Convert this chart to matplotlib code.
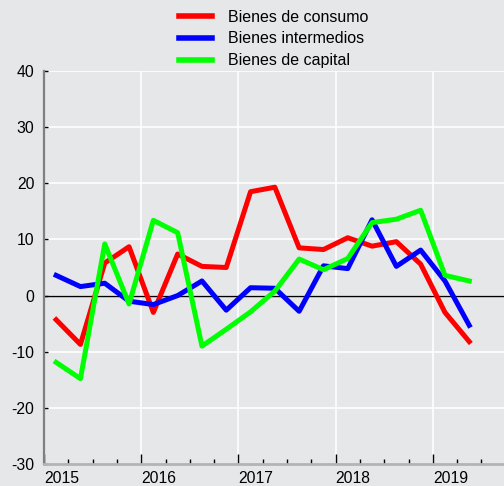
# quarterly growth chart: bienes de consumo / intermedios / capital
import numpy as np
import matplotlib.pyplot as plt
from matplotlib.ticker import FixedLocator, NullFormatter
import matplotlib.transforms as mtransforms

plt.rcParams['font.family'] = ['Liberation Sans', 'DejaVu Sans']
plt.rcParams['axes.unicode_minus'] = False

# 2015Q1 .. 2019Q2
quarters = np.arange(18)
years = ['2015', '2016', '2017', '2018', '2019']

consumo = [-4.3, -8.7, 5.8, 8.7, -3.0, 7.4, 5.2, 5.0, 18.5, 19.3,
           8.5, 8.2, 10.3, 8.8, 9.6, 5.6, -3.0, -8.2]
intermedios = [3.6, 1.6, 2.2, -1.0, -1.6, 0.0, 2.6, -2.6, 1.4, 1.3,
               -2.8, 5.3, 4.8, 13.5, 5.2, 8.1, 2.6, -5.3]
capital = [-11.9, -14.8, 9.2, -1.5, 13.4, 11.2, -9.0, -6.0, -2.9, 0.8,
           6.5, 4.6, 6.6, 13.0, 13.6, 15.2, 3.6, 2.6]

bg = '#e6e7e9'
fig = plt.figure(figsize=(5.04, 4.86), dpi=100, facecolor=bg)
ax = fig.add_axes([44 / 504, 1 - 464 / 486, 1 - 44 / 504, 393 / 486])
ax.set_facecolor(bg)

ax.axhline(0, color='black', lw=1.0, zorder=2)
ax.plot(quarters, consumo, color='#ff0000', lw=3.6, label='Bienes de consumo', zorder=3)
ax.plot(quarters, intermedios, color='#0000ff', lw=3.6, label='Bienes intermedios', zorder=3)
ax.plot(quarters, capital, color='#00ff00', lw=3.6, label='Bienes de capital', zorder=3)

ax.set_ylim(-30, 40)
ax.set_xlim(-0.5, 18.43)
ax.set_yticks(range(-30, 41, 10))

# year boundaries as major ticks, quarter boundaries as minor ticks
year_edges = [-0.5, 3.5, 7.5, 11.5, 15.5]
ax.xaxis.set_major_locator(FixedLocator(year_edges))
ax.set_xticklabels(years)
ax.xaxis.set_minor_locator(FixedLocator(np.arange(-0.5, 18.5, 1.0)))
ax.xaxis.set_minor_formatter(NullFormatter())
offset = mtransforms.ScaledTranslation(6 / 100, 0, fig.dpi_scale_trans)
for lbl in ax.get_xticklabels():
    lbl.set_horizontalalignment('left')
    lbl.set_transform(lbl.get_transform() + offset)

ax.tick_params(axis='x', which='major', direction='in', length=7, width=1,
               color='black', labelsize=11.3, pad=5)
ax.tick_params(axis='x', which='minor', direction='in', length=3.5, width=1,
               color='black')
ax.tick_params(axis='y', direction='in', length=3, width=1, color='black',
               labelsize=11.3, pad=7)

# white grid
for v in range(-20, 41, 10):
    ax.axhline(v, color='white', lw=1.2, zorder=1)
for e in year_edges[1:]:
    ax.axvline(e, color='white', lw=1.2, zorder=1)

for s in ['top', 'right']:
    ax.spines[s].set_visible(False)
ax.spines['left'].set_color('#808080')
ax.spines['left'].set_linewidth(1.6)
ax.spines['bottom'].set_color('#b4b4b4')
ax.spines['bottom'].set_linewidth(2.0)

leg = ax.legend(loc='lower center', bbox_to_anchor=(0.5, 1.0), frameon=False,
                fontsize=11.5, handlelength=2.05, handletextpad=1.0,
                labelspacing=0.42, borderaxespad=-0.22)
for h in leg.get_lines():
    h.set_linewidth(4)

fig.savefig('out.png', dpi=100, facecolor=bg)
